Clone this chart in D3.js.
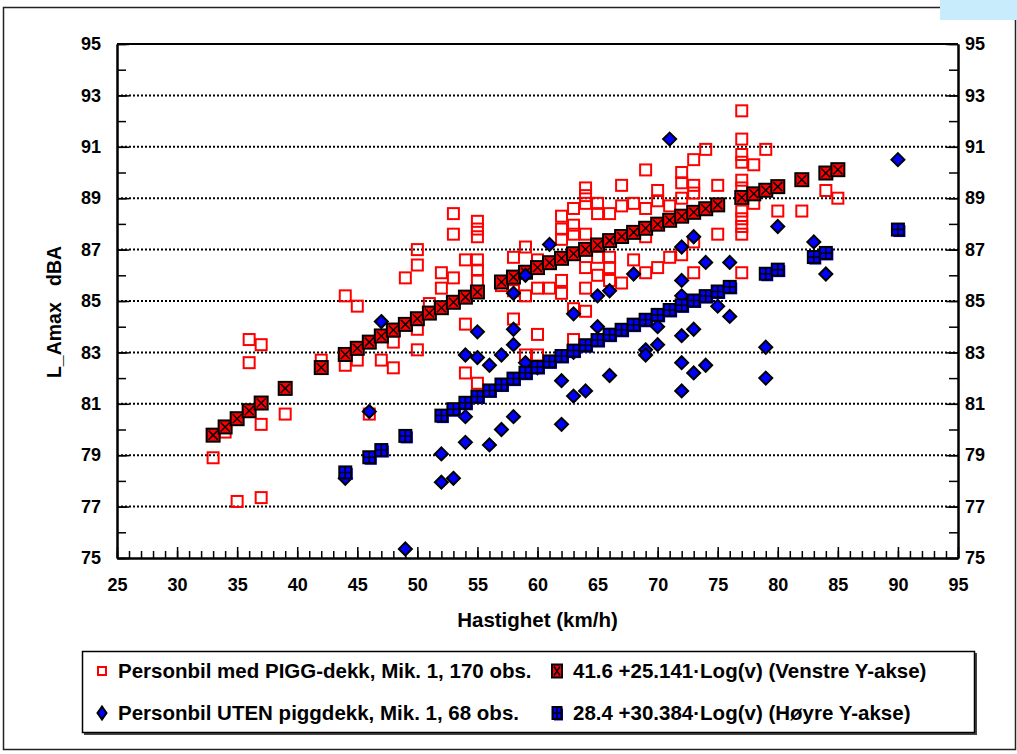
<!DOCTYPE html>
<html>
<head>
<meta charset="utf-8">
<script src="https://cdn.jsdelivr.net/npm/d3@7"></script>
<style>
body { margin:0; background:#fff; }
text { font-family: "Liberation Sans", Arial, sans-serif; font-weight: bold; fill:#000; }
</style>
</head>
<body>
<div id="chart"></div>
<script>
// Tick values
var xTicks = [25, 30, 35, 40, 45, 50, 55, 60, 65, 70, 75, 80, 85, 90, 95];
var yTicks = [75, 77, 79, 81, 83, 85, 87, 89, 91, 93, 95];

// Personbil med PIGG-dekk (speed, level)
var piggObs = [
    [33,78.9],[34,79.9],[35,77.2],[36,83.5],[36,82.6],[37,83.3],[37,80.2],[37,77.35],
    [39,80.6],[42,82.7],[44,85.2],[44,82.5],[45,84.8],[45,82.7],[46,80.6],[47,82.7],
    [48,83.4],[48,82.4],[49,85.9],[50,87.0],[50,86.4],[50,83.9],[50,83.1],[51,84.9],
    [52,86.1],[52,85.5],[53,88.4],[53,87.6],[53,85.9],[54,86.6],[54,84.1],[54,82.2],
    [55,88.1],[55,87.8],[55,87.5],[55,86.6],[55,86.2],[55,85.8],[55,81.8],[57,85.6],
    [58,86.7],[58,85.4],[58,84.3],[59,87.1],[59,85.2],[59,82.9],[60,86.6],[60,85.5],
    [60,83.7],[60,82.9],[61,85.5],[62,88.3],[62,87.8],[62,87.4],[62,85.8],[62,85.3],
    [63,88.6],[63,87.95],[63,87.6],[63,84.7],[63,83.5],[64,89.4],[64,89.1],[64,88.8],
    [64,87.6],[64,86.3],[64,85.5],[64,84.6],[65,88.8],[65,88.4],[65,86.7],[65,86.0],
    [66,88.4],[66,86.7],[66,86.3],[66,85.8],[67,89.5],[67,88.7],[67,85.7],[68,88.8],
    [68,86.6],[69,90.1],[69,88.6],[69,87.5],[69,86.1],[70,89.3],[70,88.9],[70,86.3],
    [71,88.7],[71,86.7],[72,90.0],[72,89.6],[72,89.0],[72,86.8],[73,90.5],[73,89.5],
    [73,89.2],[73,87.3],[73,86.1],[74,90.9],[75,89.5],[75,87.6],[77,92.4],[77,91.3],
    [77,90.7],[77,90.4],[77,89.7],[77,89.4],[77,88.5],[77,88.2],[77,87.9],[77,87.6],
    [77,86.1],[78,90.3],[78,88.8],[79,90.9],[80,88.5],[82,88.5],[84,89.3],[85,89.0]
];

// Personbil UTEN piggdekk (speed, level)
var utenObs = [
    [44,78.1],[46,80.7],[47,84.2],[49,75.35],[52,79.05],[52,77.95],[53,78.1],[54,82.9],
    [54,80.5],[54,79.5],[55,83.8],[55,82.8],[56,82.5],[56,79.4],[57,82.9],[57,80.0],
    [58,85.3],[58,83.9],[58,83.3],[58,80.5],[59,86.0],[59,82.6],[60,82.4],[61,87.2],
    [62,81.9],[62,80.2],[63,84.5],[63,83.0],[63,81.3],[64,81.5],[65,85.2],[65,84.0],
    [66,85.4],[66,82.1],[68,86.05],[69,83.1],[69,82.9],[70,84.0],[70,83.3],[71,91.3],
    [72,87.1],[72,85.8],[72,85.2],[72,83.65],[72,82.6],[72,81.5],[73,87.5],[73,83.9],
    [73,82.2],[74,86.5],[74,82.5],[75,84.8],[76,86.5],[76,84.4],[79,83.2],[79,82.0],
    [80,87.9],[83,87.3],[84,86.05],[90,90.5]
];

// Fitted level, PIGG (Venstre Y-akse)
var piggFit = [
    [33,79.78],[34,80.10],[35,80.42],[36,80.73],[37,81.03],[39,81.60],[42,82.41],[44,82.92],
    [45,83.16],[46,83.40],[47,83.64],[48,83.87],[49,84.09],[50,84.31],[51,84.53],[52,84.74],
    [53,84.95],[54,85.15],[55,85.35],[57,85.74],[58,85.93],[59,86.12],[60,86.30],[61,86.49],
    [62,86.66],[63,86.84],[64,87.01],[65,87.18],[66,87.35],[67,87.51],[68,87.67],[69,87.83],
    [70,87.99],[71,88.14],[72,88.30],[73,88.45],[74,88.59],[75,88.74],[77,89.03],[78,89.17],
    [79,89.31],[80,89.45],[82,89.72],[84,89.98],[85,90.11]
];

// Fitted level, UTEN (Høyre Y-akse)
var utenFit = [
    [44,78.33],[46,78.92],[47,79.20],[49,79.75],[52,80.54],[53,80.79],[54,81.04],[55,81.28],
    [56,81.52],[57,81.75],[58,81.98],[59,82.21],[60,82.43],[61,82.65],[62,82.86],[63,83.07],
    [64,83.28],[65,83.48],[66,83.69],[67,83.88],[68,84.08],[69,84.27],[70,84.46],[71,84.65],
    [72,84.83],[73,85.02],[74,85.19],[75,85.37],[76,85.55],[79,86.06],[80,86.22],[83,86.71],
    [84,86.87],[90,87.78]
];

var legendLabels = [
    'Personbil med PIGG-dekk, Mik. 1, 170 obs.',
    'Personbil UTEN piggdekk, Mik. 1, 68 obs.',
    '41.6 +25.141\u00B7Log(v) (Venstre Y-akse)',
    '28.4 +30.384\u00B7Log(v) (H\u00F8yre Y-akse)'
];

var width = 1017, height = 754;
var margin = {left:117, top:44, right:59, bottom:196};
var chartWidth = width - margin.left - margin.right;
var chartHeight = height - margin.top - margin.bottom;

var svg = d3.select('#chart').append('svg')
    .attr('width', width)
    .attr('height', height);

// Outer frame + little blue corner box
svg.append('rect')
    .attr('x', 3.5).attr('y', 7.5).attr('width', 1012).attr('height', 742)
    .attr('fill', 'none').attr('stroke', '#222').attr('stroke-width', 1.5);
svg.append('rect')
    .attr('x', 940).attr('y', 0).attr('width', 77).attr('height', 20)
    .attr('fill', '#c8ecfb');

var xScale = d3.scaleLinear().domain([25, 95]).range([margin.left, margin.left + chartWidth]);
var yScale = d3.scaleLinear().domain([75, 95]).range([margin.top + chartHeight, margin.top]);

// Dotted grid lines
svg.append('g').selectAll('line')
    .data(yTicks.filter(function(d){ return d > 75 && d < 95; }))
    .enter().append('line')
    .attr('x1', xScale(25)).attr('x2', xScale(95))
    .attr('y1', function(d){ return yScale(d); })
    .attr('y2', function(d){ return yScale(d); })
    .attr('stroke', '#000').attr('stroke-width', 2)
    .attr('stroke-dasharray', '2,2');

// Top border of plot area
svg.append('line')
    .attr('x1', xScale(25)).attr('x2', xScale(95))
    .attr('y1', yScale(95)).attr('y2', yScale(95))
    .attr('stroke', '#000').attr('stroke-width', 2);

var allX = d3.range(25, 96);
var allY = d3.range(75, 96);

function styleAxis(g) {
    g.select('.domain').attr('stroke', '#000').attr('stroke-width', 2);
    g.selectAll('.tick line').attr('stroke', '#000').attr('stroke-width', 1.5);
    g.selectAll('text').style('font-size', '18px').style('font-weight', 'bold')
        .style('font-family', '"Liberation Sans", Arial, sans-serif').attr('fill', '#000');
}

// x axis: minor then major
var xMinor = svg.append('g').attr('transform', 'translate(0,' + yScale(75) + ')')
    .call(d3.axisBottom(xScale).tickValues(allX).tickSize(-7).tickSizeOuter(0).tickFormat(''));
styleAxis(xMinor);
var xAxisG = svg.append('g').attr('transform', 'translate(0,' + yScale(75) + ')')
    .call(d3.axisBottom(xScale).tickValues(xTicks).tickSize(-11).tickSizeOuter(0).tickPadding(20).tickFormat(d3.format('d')));
styleAxis(xAxisG);

// left axis
var yMinorL = svg.append('g').attr('transform', 'translate(' + xScale(25) + ',0)')
    .call(d3.axisLeft(yScale).tickValues(allY).tickSize(-9).tickSizeOuter(0).tickFormat(''));
styleAxis(yMinorL);
var yAxisL = svg.append('g').attr('transform', 'translate(' + xScale(25) + ',0)')
    .call(d3.axisLeft(yScale).tickValues(yTicks).tickSize(-12).tickSizeOuter(0).tickPadding(16).tickFormat(d3.format('d')));
styleAxis(yAxisL);

// right axis
var yMinorR = svg.append('g').attr('transform', 'translate(' + xScale(95) + ',0)')
    .call(d3.axisRight(yScale).tickValues(allY).tickSize(-9).tickSizeOuter(0).tickFormat(''));
styleAxis(yMinorR);
var yAxisR = svg.append('g').attr('transform', 'translate(' + xScale(95) + ',0)')
    .call(d3.axisRight(yScale).tickValues(yTicks).tickSize(-12).tickSizeOuter(0).tickPadding(7).tickFormat(d3.format('d')));
styleAxis(yAxisR);

// Axis titles
svg.append('text')
    .attr('x', (xScale(25) + xScale(95)) / 2).attr('y', 627)
    .attr('text-anchor', 'middle').style('font-size', '20.5px')
    .text('Hastighet (km/h)');
svg.append('text')
    .attr('transform', 'translate(61,' + 312 + ') rotate(-90)')
    .attr('text-anchor', 'middle').style('font-size', '19.5px')
    .attr('xml:space', 'preserve')
    .text('L_Amax   dBA');

// Marker drawers
function hollowSquare(g, x, y, s) {
    g.append('rect').attr('x', x - s/2).attr('y', y - s/2).attr('width', s).attr('height', s)
        .attr('fill', 'none').attr('stroke', '#ff0000').attr('stroke-width', 2);
}
function crossSquare(g, x, y, w, h) {
    g.append('rect').attr('x', x - w/2).attr('y', y - h/2).attr('width', w).attr('height', h)
        .attr('fill', '#ff0000').attr('stroke', '#000').attr('stroke-width', 2);
    g.append('path')
        .attr('d', 'M' + (x - w/2 + 2) + ',' + (y - h/2 + 2) + 'L' + (x + w/2 - 2) + ',' + (y + h/2 - 2) +
                   'M' + (x + w/2 - 2) + ',' + (y - h/2 + 2) + 'L' + (x - w/2 + 2) + ',' + (y + h/2 - 2))
        .attr('stroke', '#000').attr('stroke-width', 1.5);
}
function diamond(g, x, y, w, h) {
    g.append('path')
        .attr('d', 'M' + x + ',' + (y - h/2) + 'L' + (x + w/2) + ',' + y + 'L' + x + ',' + (y + h/2) + 'L' + (x - w/2) + ',' + y + 'Z')
        .attr('fill', '#0000ff').attr('stroke', '#000').attr('stroke-width', 2);
}
function gridSquare(g, x, y, w, h) {
    g.append('rect').attr('x', x - w/2 + 1.5).attr('y', y - h/2 + 1.5).attr('width', w).attr('height', h)
        .attr('fill', '#0000ff');
    g.append('rect').attr('x', x - w/2).attr('y', y - h/2).attr('width', w).attr('height', h)
        .attr('fill', '#0000ff').attr('stroke', '#000').attr('stroke-width', 2);
    g.append('path')
        .attr('d', 'M' + x + ',' + (y - h/2) + 'V' + (y + h/2) + 'M' + (x - w/2) + ',' + y + 'H' + (x + w/2))
        .attr('stroke', '#000').attr('stroke-width', 1.5);
}

var marks = svg.append('g');
var gPigg = marks.append('g');
piggObs.forEach(function(d){ hollowSquare(gPigg, xScale(d[0]), yScale(d[1]), 11); });
var gPiggFit = marks.append('g');
piggFit.forEach(function(d){ crossSquare(gPiggFit, xScale(d[0]), yScale(d[1]), 13, 13); });
var gUten = marks.append('g');
utenObs.forEach(function(d){ diamond(gUten, xScale(d[0]), yScale(d[1]), 13, 13); });
var gUtenFit = marks.append('g');
utenFit.forEach(function(d){ gridSquare(gUtenFit, xScale(d[0]), yScale(d[1]), 12, 12); });

// Legend
var legend = svg.append('g');
legend.append('rect').attr('x', 84).attr('y', 653).attr('width', 893).attr('height', 82).attr('fill', '#444');
legend.append('rect').attr('x', 82.5).attr('y', 651.5).attr('width', 892).attr('height', 81)
    .attr('fill', '#fff').attr('stroke', '#000').attr('stroke-width', 1.5);

var rowY = [671, 713];
var colX = [102, 557];
hollowSquare(legend, colX[0], rowY[0], 8);
diamond(legend, colX[0], rowY[1], 9, 13);
crossSquare(legend, colX[1], rowY[0], 10, 13);
gridSquare(legend, colX[1], rowY[1], 9, 12);

legend.selectAll('text.lab')
    .data(legendLabels)
    .enter().append('text')
    .attr('class', 'lab')
    .attr('x', function(d, i){ return i < 2 ? 118 : 573; })
    .attr('y', function(d, i){ return rowY[i % 2] + 7; })
    .style('font-size', '20.5px')
    .text(function(d){ return d; });
</script>
</body>
</html>
